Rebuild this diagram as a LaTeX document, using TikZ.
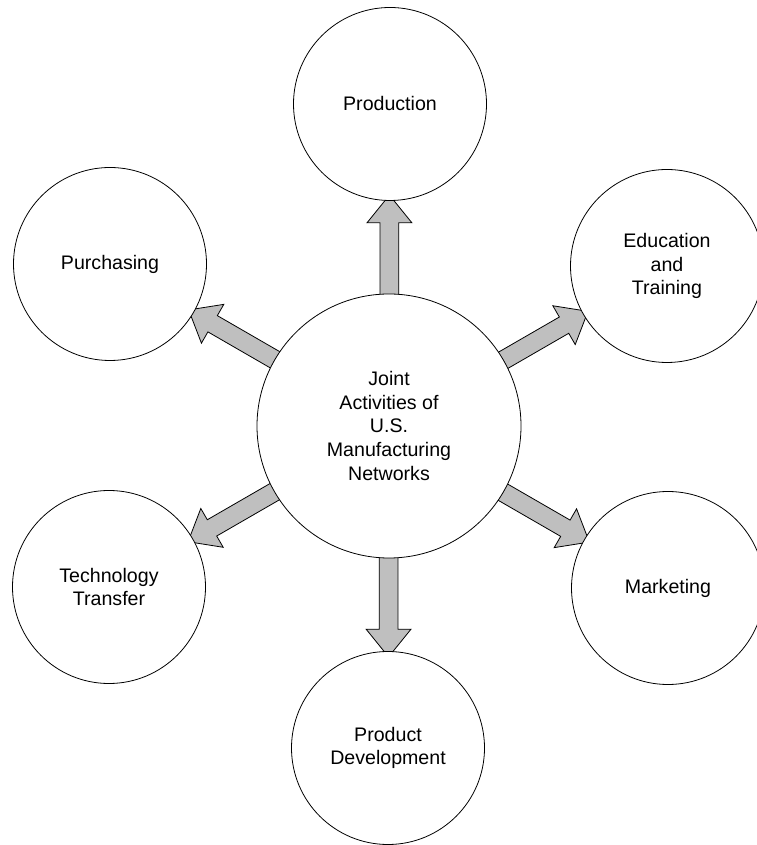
\documentclass[tikz,border=0pt]{standalone}
\usepackage{fontspec}
\setmainfont{Liberation Sans}
\usetikzlibrary{shapes.arrows,calc,backgrounds}

\tikzset{
  act/.style={circle,draw,fill=white,line width=0.8pt,minimum size=193pt,inner sep=0pt,align=center,
    font=\fontsize{19.6}{23.6}\selectfont},
  hub/.style={act,minimum size=264pt},
  blk/.style={single arrow,draw,line width=0.8pt,fill=black!25,inner xsep=0pt,inner ysep=9pt,
    single arrow head extend=13pt,single arrow tip angle=78,minimum height=104pt}
}

\begin{document}
\begin{tikzpicture}[x=1pt,y=1pt]
      \useasboundingbox (0,0) rectangle (756,845);
      \node[hub] (joint) at (389,419) {Joint\\Activities of\\U.S.\\Manufacturing\\Networks};
      \node[act] (production) at (390,741) {Production};
      \node[act] (education) at (667,579) {Education\\and\\Training};
      \node[act] (marketing) at (668,257) {Marketing};
      \node[act] (development) at (388,97) {Product\\Development};
      \node[act] (transfer) at (109,258) {Technology\\Transfer};
      \node[act] (purchasing) at (110,581) {Purchasing};

      % arrows go under the circles
      \begin{pgfonlayer}{background}
      \node[blk,rotate=90] at ($(production.-90)!52pt!(joint.90)$) {};
      \node[blk,rotate=30] at ($(education.-150)!52pt!(joint.30)$) {};
      \node[blk,rotate=-30] at ($(marketing.150)!52pt!(joint.-30)$) {};
      \node[blk,rotate=-90] at ($(development.90)!52pt!(joint.-90)$) {};
      \node[blk,rotate=-150] at ($(transfer.30)!52pt!(joint.-150)$) {};
      \node[blk,rotate=150] at ($(purchasing.-30)!52pt!(joint.150)$) {};
      \end{pgfonlayer}
    \end{tikzpicture}
\end{document}
